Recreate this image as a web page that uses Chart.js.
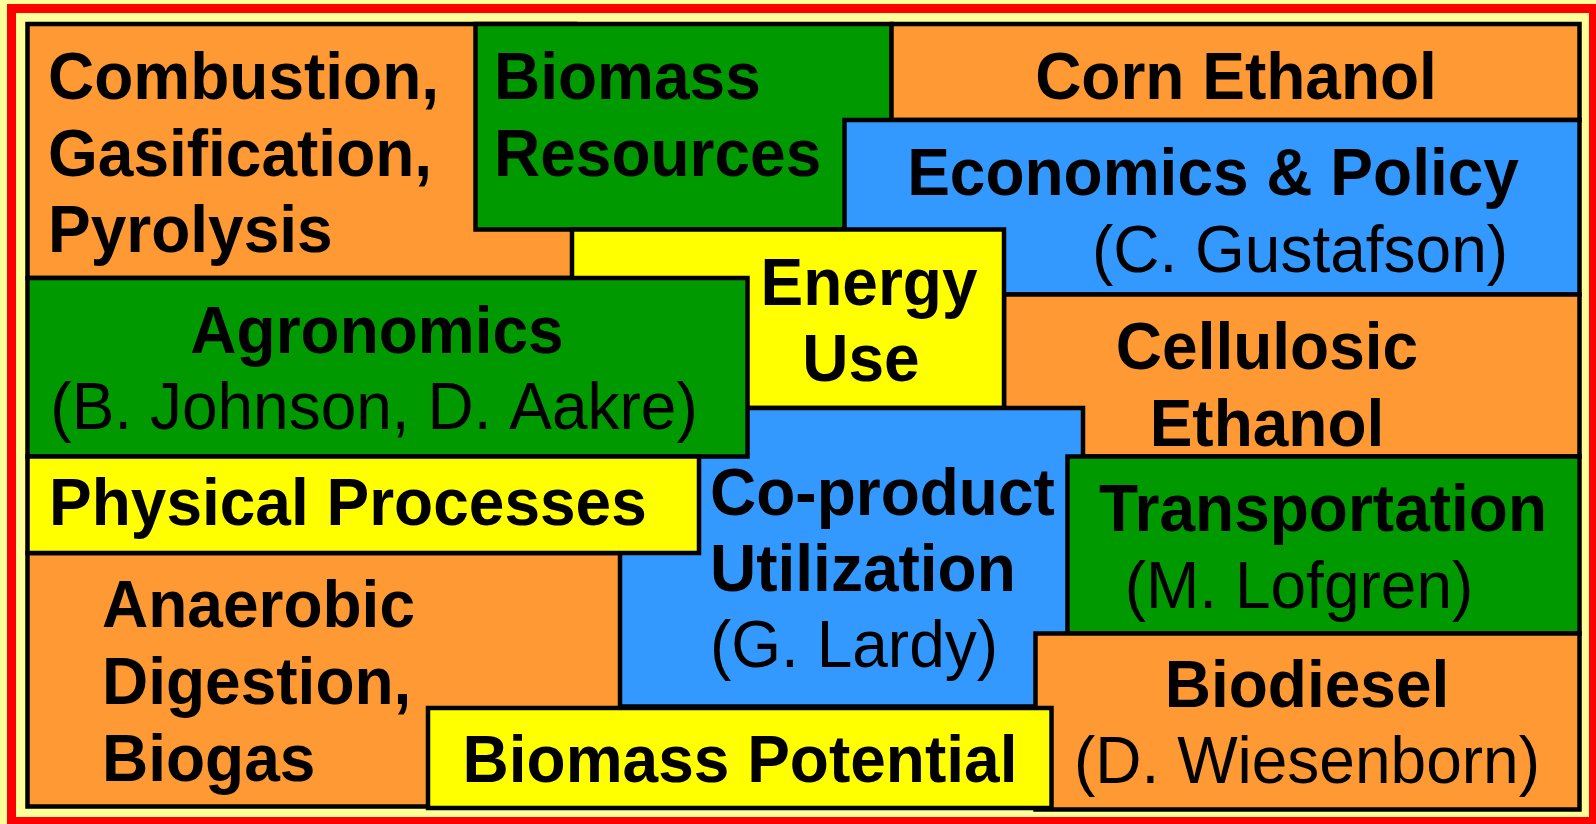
<!DOCTYPE html>
<html>
<head>
<meta charset="utf-8">
<script src="https://cdn.jsdelivr.net/npm/chart.js@4/dist/chart.umd.min.js"></script>
<style>
    html, body { margin: 0; padding: 0; background: #FFFF99; overflow: hidden; }
    #wrap { width: 1596px; height: 824px; position: relative; }
</style>
</head>
<body>
<div id="wrap"><canvas id="chart"></canvas></div>
<script>
// boxes, listed from the bottom layer to the top layer
let boxNames = ["Combustion", "Biomass Resources", "Corn Ethanol", "Economics & Policy", "Cellulosic Ethanol", "Energy Use",
    "Anaerobic Digestion", "Co-product Utilization", "Agronomics", "Physical Processes", "Transportation", "Biodiesel", "Biomass Potential"]
let boxLeft = [27.5, 475.5, 891.5, 844.5, 1004, 572, 27.5, 620, 27.5, 27.5, 1067.5, 1035.5, 428]
let boxRight = [575, 891.5, 1579.5, 1579.5, 1579.5, 1004, 625, 1083, 747.5, 699, 1579.5, 1579.5, 1051.5]
let boxTop = [24, 24, 24, 120, 294.5, 229.5, 553, 408, 278, 456.5, 456.5, 633.5, 708]
let boxBottom = [278, 229.5, 120, 294.5, 456.5, 408, 806.5, 706.5, 456.5, 553, 633.5, 809.5, 808]
let boxKind = ["orange", "green", "orange", "blue", "orange", "yellow", "orange", "blue", "green", "yellow", "green", "orange", "yellow"]

// text lines
let labelText = ["Combustion,", "Gasification,", "Pyrolysis", "Biomass", "Resources", "Corn Ethanol",
    "Economics & Policy", "(C. Gustafson)", "Energy", "Use", "Cellulosic", "Ethanol",
    "Agronomics", "(B. Johnson, D. Aakre)", "Physical Processes", "Co-product", "Utilization", "(G. Lardy)",
    "Transportation", "(M. Lofgren)", "Anaerobic", "Digestion,", "Biogas", "Biodiesel", "(D. Wiesenborn)", "Biomass Potential"]
let labelX = [48, 48, 48, 494, 494, 1236, 1213, 1300, 869, 861, 1267, 1267, 377, 374, 49, 710, 710, 710, 1323, 1299, 102, 102, 102, 1307, 1307, 740]
let labelY = [99, 176, 252, 99, 176, 99, 195, 272, 305, 381, 369, 446, 353, 429, 525, 515, 591, 667, 531, 608, 627, 704, 781, 707, 783, 782]
let labelBold = [1, 1, 1, 1, 1, 1, 1, 0, 1, 1, 1, 1, 1, 0, 1, 1, 1, 0, 1, 0, 1, 1, 1, 1, 0, 1]
let labelAlign = ["left", "left", "left", "left", "left", "center", "center", "center", "center", "center", "center", "center",
    "center", "center", "left", "left", "left", "left", "center", "center", "left", "left", "left", "center", "center", "center"]

const colors = {orange: "#FF9933", green: "#009900", blue: "#3399FF", yellow: "#FFFF00"}

let datasets = []
let n = boxNames.length
for (let i = 0; i < n; i++) {
    let x0 = boxLeft[i], x1 = boxRight[i], y0 = boxTop[i], y1 = boxBottom[i]
    datasets.push({
        label: boxNames[i],
        data: [{x: x0, y: y0}, {x: x1, y: y0}, {x: x1, y: y1}, {x: x0, y: y1}, {x: x0, y: y0}],
        backgroundColor: colors[boxKind[i]],
        borderColor: "#000000",
        borderWidth: 4.5,
        borderJoinStyle: "miter",
        borderCapStyle: "square",
        fill: "shape",
        pointRadius: 0,
        tension: 0,
        order: n - i + 1
    })
}
// red frame round everything
datasets.push({
    label: "frame",
    data: [{x: 11.5, y: 8.5}, {x: 1593.5, y: 8.5}, {x: 1593.5, y: 821.5}, {x: 11.5, y: 821.5}, {x: 11.5, y: 8.5}],
    borderColor: "#FF0000",
    borderWidth: 9,
    borderJoinStyle: "miter",
    borderCapStyle: "square",
    fill: false,
    pointRadius: 0,
    tension: 0,
    order: 0
})

let textPlugin = {
    id: "boxText",
    afterDatasetsDraw(chart) {
        let ctx = chart.ctx
        let xs = chart.scales.x, ys = chart.scales.y
        ctx.save()
        ctx.fillStyle = "#000000"
        ctx.textBaseline = "alphabetic"
        for (let i = 0; i < labelText.length; i++) {
            ctx.font = (labelBold[i] ? "bold " : "") + "64px 'Liberation Sans', Arial, sans-serif"
            ctx.textAlign = labelAlign[i]
            let px = xs.getPixelForValue(labelX[i]), py = ys.getPixelForValue(labelY[i])
            // glyphs in the original are a touch taller than Liberation Sans
            ctx.save()
            ctx.translate(px, py)
            ctx.scale(1, 1.03)
            ctx.fillText(labelText[i], 0, 0)
            ctx.restore()
        }
        ctx.restore()
    }
}

let chart = new Chart(document.getElementById("chart"), {
    type: "line",
    data: {datasets: datasets},
    options: {
        responsive: true,
        maintainAspectRatio: false,
        animation: false,
        layout: {padding: 0},
        scales: {
            x: {type: "linear", min: 0, max: 1596, display: false},
            y: {type: "linear", min: 0, max: 824, reverse: true, display: false}
        },
        plugins: {legend: {display: false}, tooltip: {enabled: false}}
    },
    plugins: [textPlugin]
})
</script>
</body>
</html>
